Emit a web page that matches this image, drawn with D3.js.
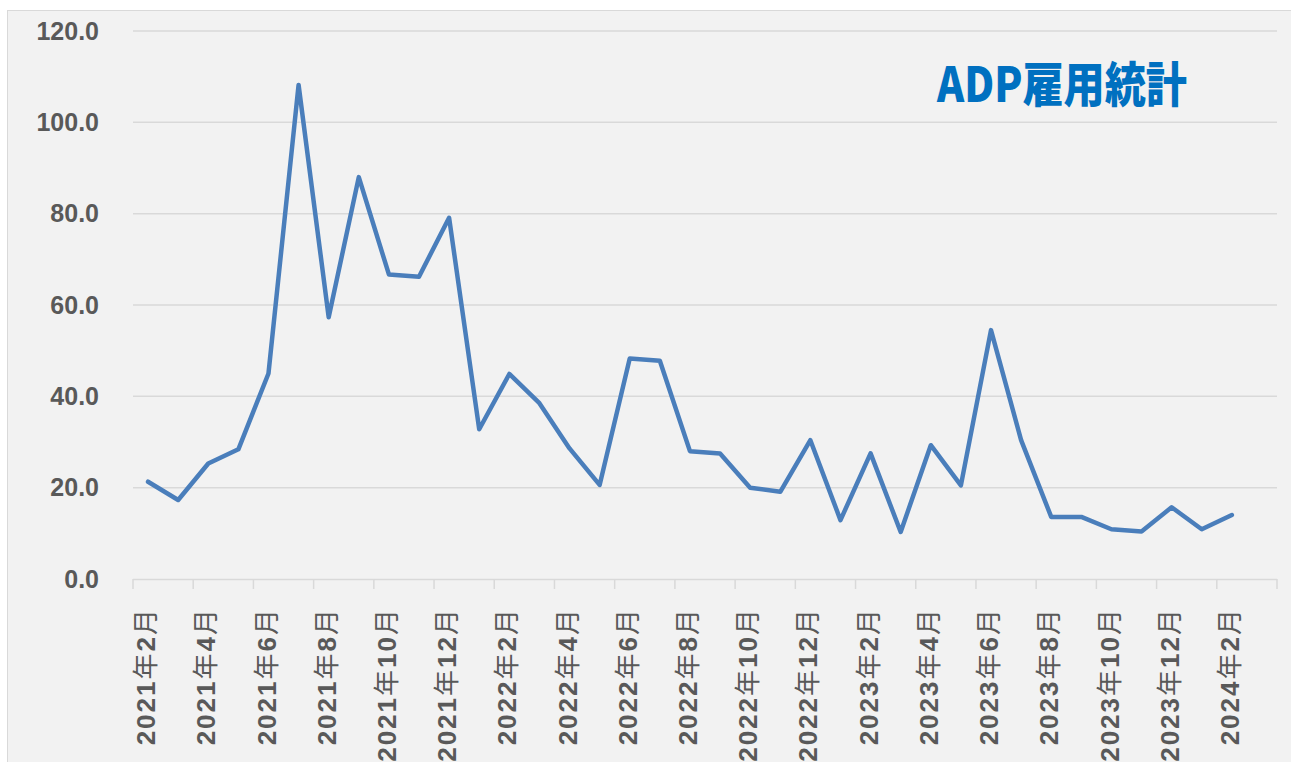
<!DOCTYPE html>
<html>
<head>
<meta charset="utf-8">
<script src="https://cdn.jsdelivr.net/npm/d3@7"></script>
<style>
  body { margin: 0; background: #fff; }
  svg { display: block; }
</style>
</head>
<body>
<div class="canvas"></div>
<script>
// month categories (last one is an empty slot, like the Excel source)
const months = [
  '2021年2月','2021年3月','2021年4月','2021年5月','2021年6月','2021年7月',
  '2021年8月','2021年9月','2021年10月','2021年11月','2021年12月',
  '2022年1月','2022年2月','2022年3月','2022年4月','2022年5月','2022年6月',
  '2022年7月','2022年8月','2022年9月','2022年10月','2022年11月','2022年12月',
  '2023年1月','2023年2月','2023年3月','2023年4月','2023年5月','2023年6月',
  '2023年7月','2023年8月','2023年9月','2023年10月','2023年11月','2023年12月',
  '2024年1月','2024年2月','2024年3月'
];
const adp = [
  21.3, 17.3, 25.3, 28.4, 45.0, 108.2, 57.3, 88.0, 66.7, 66.2, 79.1,
  32.8, 44.9, 38.5, 28.6, 20.6, 48.3, 47.8, 28.0, 27.5, 20.0, 19.1, 30.4,
  12.9, 27.5, 10.3, 29.3, 20.5, 54.5, 30.4, 13.6, 13.6, 10.9, 10.4, 15.7,
  10.9, 14.0
];
const yTicks = [0, 20, 40, 60, 80, 100, 120];
const title = 'ADP雇用統計';

const width = 1291, height = 762;
const plot = { left: 133, right: 1277, top: 31, bottom: 579 };

const svg = d3.select('.canvas')
  .append('svg')
  .attr('width', width)
  .attr('height', height);

// chart area
svg.append('rect')
  .attr('x', 7.5).attr('y', 10.5)
  .attr('width', width).attr('height', height)
  .attr('fill', '#f2f2f2')
  .attr('stroke', '#d9d9d9');

const x = d3.scaleBand()
  .domain(months)
  .range([plot.left, plot.right])
  .padding(0);

const y = d3.scaleLinear()
  .domain([0, 120])
  .range([plot.bottom, plot.top]);

const font = '"Liberation Sans", Arial, "Noto Sans CJK JP", sans-serif';

// gridlines
svg.append('g')
  .selectAll('line')
  .data(yTicks.filter(d => d > 0))
  .enter().append('line')
    .attr('x1', plot.left).attr('x2', plot.right)
    .attr('y1', d => y(d)).attr('y2', d => y(d))
    .attr('stroke', '#d9d9d9')
    .attr('stroke-width', 1.5);

// y labels
svg.append('g')
  .selectAll('text')
  .data(yTicks)
  .enter().append('text')
    .attr('x', 99)
    .attr('y', d => y(d))
    .attr('dy', '0.35em')
    .attr('text-anchor', 'end')
    .attr('font-family', font)
    .attr('font-weight', 'bold')
    .attr('font-size', 25)
    .attr('fill', '#595959')
    .text(d => d.toFixed(1));

// x axis line + ticks every 2 months
const xAxis = svg.append('g');
xAxis.append('line')
  .attr('x1', plot.left).attr('x2', plot.right)
  .attr('y1', plot.bottom + 0.5).attr('y2', plot.bottom + 0.5)
  .attr('stroke', '#d9d9d9')
  .attr('stroke-width', 1.5);

const tickPos = months.filter((d, i) => i % 2 === 0).map(d => x(d))
  .concat([plot.right]);
xAxis.selectAll('.tick')
  .data(tickPos)
  .enter().append('line')
    .attr('class', 'tick')
    .attr('x1', d => d).attr('x2', d => d)
    .attr('y1', plot.bottom).attr('y2', plot.bottom + 10)
    .attr('stroke', '#d9d9d9')
    .attr('stroke-width', 1.5);

// rotated month labels, digits bold, kanji regular
const labels = xAxis.selectAll('.lbl')
  .data(months.filter((d, i) => i % 2 === 0 && i < adp.length))
  .enter().append('text')
    .attr('class', 'lbl')
    .attr('transform', d => `translate(${x(d) + x.bandwidth() / 2 - 2}, 607) rotate(-90)`)
    .attr('dy', '0.35em')
    .attr('text-anchor', 'end')
    .attr('font-family', font)
    .attr('font-size', 26)
    .attr('letter-spacing', 2)
    .attr('fill', '#595959');

labels.each(function(d) {
  const parts = d.match(/(\d+)(年)(\d+)(月)/).slice(1);
  const t = d3.select(this);
  parts.forEach((p, i) => {
    t.append('tspan')
      .attr('font-weight', i % 2 === 0 ? 'bold' : 'normal')
      .text(p);
  });
});

// data line
const line = d3.line()
  .x((d, i) => x(months[i]) + x.bandwidth() / 2)
  .y(d => y(d));

svg.append('path')
  .datum(adp)
  .attr('d', line)
  .attr('fill', 'none')
  .attr('stroke', '#4a7ebb')
  .attr('stroke-width', 4.5)
  .attr('stroke-linejoin', 'round')
  .attr('stroke-linecap', 'round');

// title
svg.append('text')
  .attr('x', 937)
  .attr('y', 102)
  .attr('font-family', '"Noto Sans CJK JP", sans-serif')
  .attr('font-weight', 900)
  .attr('font-size', 48)
  .attr('fill', '#0070c0')
  .attr('textLength', 250)
  .attr('lengthAdjust', 'spacingAndGlyphs')
  .text(title);
</script>
</body>
</html>
